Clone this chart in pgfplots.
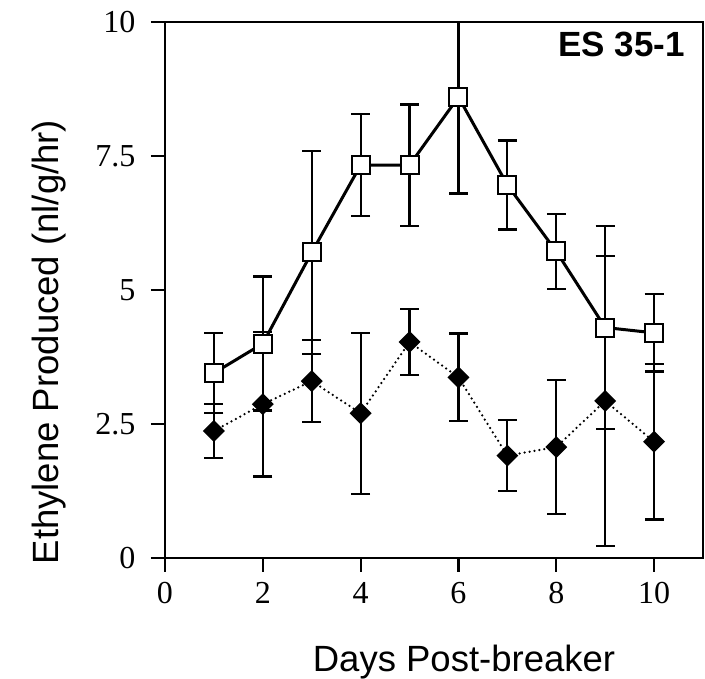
\documentclass[border=0pt]{standalone}
\usepackage{fontspec}
\setmainfont{Liberation Sans}
\newfontfamily\serif{Liberation Serif}
\usepackage{pgfplots}
\pgfplotsset{compat=1.18}
\begin{document}
\begin{tikzpicture}
\begin{axis}[
  scale only axis, width=538pt, height=536pt,
  xmin=0, xmax=11, ymin=0, ymax=10,
  axis line style={line width=2.6pt},
  xtick={0,2,4,6,8,10}, xticklabels={0,2,4,6,8,10},
  ytick={0,2.5,5,7.5,10}, yticklabels={0,2.5,5,7.5,10},
  tick align=outside, xtick pos=bottom, ytick pos=left,
  major tick length=14pt,
  every tick/.style={black, line width=2.2pt},
  tick label style={font=\fontsize{32}{32}\selectfont\serif},
  xticklabel style={yshift=-7pt},
  yticklabel style={xshift=-12pt},
  /pgf/number format/assume math mode=true,
  xlabel={Days Post-breaker},
  ylabel={Ethylene Produced (nl/g/hr)},
  label style={font=\fontsize{36.5}{36.5}\selectfont},
  xlabel style={at={([xshift=30pt,yshift=-114pt]rel axis cs:0.5,0)}, anchor=base},
  ylabel style={at={([xshift=-106pt,yshift=-52pt]rel axis cs:0,0.5)}, anchor=base},
]
% filled diamonds, dotted line
\addplot[black, line width=2.5pt, line cap=round, dash pattern=on 0pt off 5pt,
  mark=square*, mark size=6.5pt, mark options={rotate=45, solid, fill=black},
  error bars/.cd, y dir=both, y explicit,
  error bar style={line width=2.2pt, solid, line cap=butt},
  error mark options={rotate=90, line width=2.2pt, mark size=9.5pt, solid}]
coordinates {
(1,2.37) +- (0,0.50)
(2,2.87) +- (0,1.35)
(3,3.30) +- (0,0.77)
(4,2.70) +- (0,1.50)
(5,4.03) +- (0,0.62)
(6,3.37) +- (0,0.82)
(7,1.91) +- (0,0.66)
(8,2.07) +- (0,1.25)
(9,2.93) +- (0,2.70)
(10,2.17) +- (0,1.45)
};
% open squares, solid line
\addplot[black, line width=3pt,
  mark=square*, mark size=9pt, mark options={fill=white, line width=2pt},
  error bars/.cd, y dir=both, y explicit,
  error bar style={line width=2.2pt},
  error mark options={rotate=90, line width=2.2pt, mark size=9.5pt}]
coordinates {
(1,3.45) +- (0,0.75)
(2,4.00) +- (0,1.25)
(3,5.70) +- (0,1.90)
(4,7.33) +- (0,0.95)
(5,7.33) +- (0,1.13)
(6,8.60) +- (0,1.80)
(7,6.96) +- (0,0.83)
(8,5.72) +- (0,0.70)
(9,4.30) +- (0,1.90)
(10,4.20) +- (0,0.72)
};
\node[anchor=north east, inner sep=0pt, font=\fontsize{35}{35}\selectfont\bfseries]
  at ([xshift=-18pt,yshift=-10pt]rel axis cs:1,1) {ES 35-1};
\end{axis}
\pgfresetboundingbox
\path ([shift={(-165pt,-121pt)}]current axis.south west) rectangle ([shift={(2pt,22pt)}]current axis.north east);
\end{tikzpicture}
\end{document}
